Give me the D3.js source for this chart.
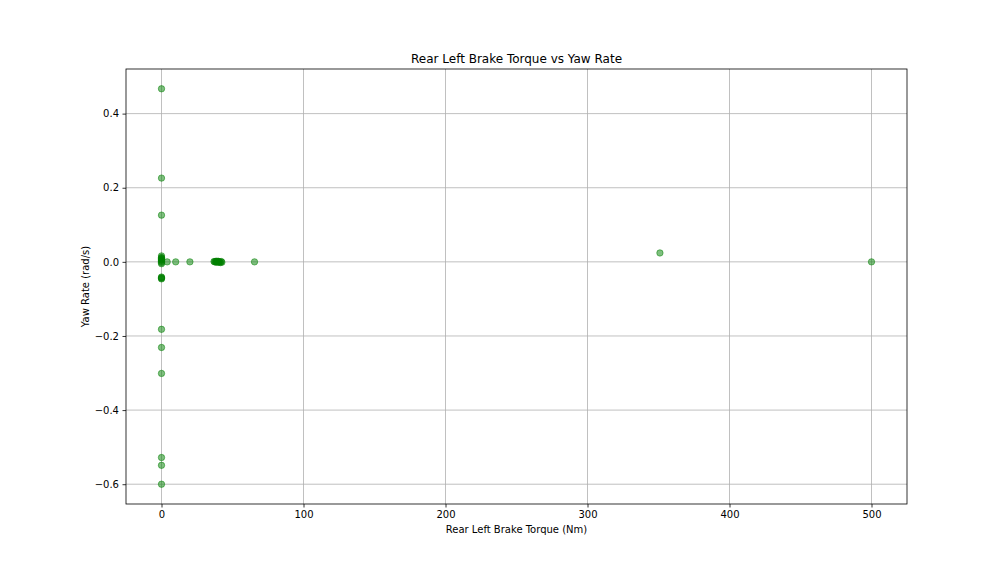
<!DOCTYPE html>
<html>
<head>
<meta charset="utf-8">
<script src="https://cdn.jsdelivr.net/npm/d3@7"></script>
<style>
  body { margin: 0; background: #fff; }
  svg { font-family: "DejaVu Sans", sans-serif; }
</style>
</head>
<body>
<svg id="chart" width="1008" height="576"></svg>
<script>
// brake torque (Nm) and yaw rate (rad/s)
const torque = [
  0, 0, 0, 0, 0, 0, 0, 0, 0, 0, 0, 0, 0, 0, 0, 0, 0, 0, 0, 0, 0, 0,
  4, 10, 20,
  37, 37.5, 38, 38.5, 39, 39.5, 40, 40.5, 41, 41.5, 42, 42.5, 39, 40,
  65.5, 351, 500
];
const yawRate = [
  0.467, 0.226, 0.126, -0.182, -0.231, -0.301, -0.528, -0.549, -0.6,
  0.016, 0.012, 0.008, 0.004, 0.001, -0.002, -0.005, 0.006, 0.01,
  -0.041, -0.044, -0.046, -0.043,
  0, 0, 0,
  0.001, 0, 0.001, -0.001, 0.002, 0, 0.001, -0.001, 0, -0.002, 0.001, -0.001, 0, 0.001,
  0, 0.024, 0
];
const xTicks = [0, 100, 200, 300, 400, 500];
const yTicks = [-0.6, -0.4, -0.2, 0, 0.2, 0.4];

const svg = d3.select("#chart");
const mLeft = 126, mRight = 907, mTop = 69, mBottom = 504;

const x = d3.scaleLinear().domain([-25, 525]).range([mLeft, mRight]);
const y = d3.scaleLinear().domain([-0.6534, 0.5204]).range([mBottom, mTop]);

// grid
const grid = svg.append("g");
grid.selectAll(".gx").data(xTicks).enter().append("line")
  .attr("x1", d => x(d)).attr("x2", d => x(d))
  .attr("y1", mTop).attr("y2", mBottom)
  .attr("stroke", "#b0b0b0").attr("stroke-width", 0.8);
grid.selectAll(".gy").data(yTicks).enter().append("line")
  .attr("x1", mLeft).attr("x2", mRight)
  .attr("y1", d => y(d)).attr("y2", d => y(d))
  .attr("stroke", "#b0b0b0").attr("stroke-width", 0.8);

// points
const pts = torque.map((t, i) => ({ t: t, r: yawRate[i] }));
svg.append("g").selectAll("circle").data(pts).enter().append("circle")
  .attr("cx", d => x(d.t))
  .attr("cy", d => y(d.r))
  .attr("r", 3.2)
  .attr("fill", "green")
  .attr("fill-opacity", 0.5)
  .attr("stroke", "green")
  .attr("stroke-opacity", 0.5)
  .attr("stroke-width", 1);

// axes
const fmtY = d => d3.format(".1f")(d).replace("-", "\u2212");
const xAxis = svg.append("g")
  .attr("transform", `translate(0,${mBottom})`)
  .call(d3.axisBottom(x).tickValues(xTicks).tickSize(3.5).tickPadding(3.5).tickFormat(d3.format("d")));
const yAxis = svg.append("g")
  .attr("transform", `translate(${mLeft},0)`)
  .call(d3.axisLeft(y).tickValues(yTicks).tickSize(3.5).tickPadding(3.5).tickFormat(fmtY));
[xAxis, yAxis].forEach(a => {
  a.select(".domain").remove();
  a.selectAll("line").attr("stroke", "#000").attr("stroke-width", 0.8);
  a.selectAll("text").attr("font-size", 10).attr("fill", "#000")
    .attr("font-family", "DejaVu Sans");
});

// frame
svg.append("rect")
  .attr("x", mLeft).attr("y", mTop)
  .attr("width", mRight - mLeft).attr("height", mBottom - mTop)
  .attr("fill", "none").attr("stroke", "#000").attr("stroke-width", 0.8);

// labels
svg.append("text")
  .attr("x", (mLeft + mRight) / 2).attr("y", mTop - 6)
  .attr("text-anchor", "middle").attr("font-size", 12)
  .text("Rear Left Brake Torque vs Yaw Rate");
svg.append("text")
  .attr("x", (mLeft + mRight) / 2).attr("y", 533)
  .attr("text-anchor", "middle").attr("font-size", 10)
  .text("Rear Left Brake Torque (Nm)");
svg.append("text")
  .attr("transform", `translate(89,${(mTop + mBottom) / 2}) rotate(-90)`)
  .attr("text-anchor", "middle").attr("font-size", 10)
  .text("Yaw Rate (rad/s)");
</script>
</body>
</html>
